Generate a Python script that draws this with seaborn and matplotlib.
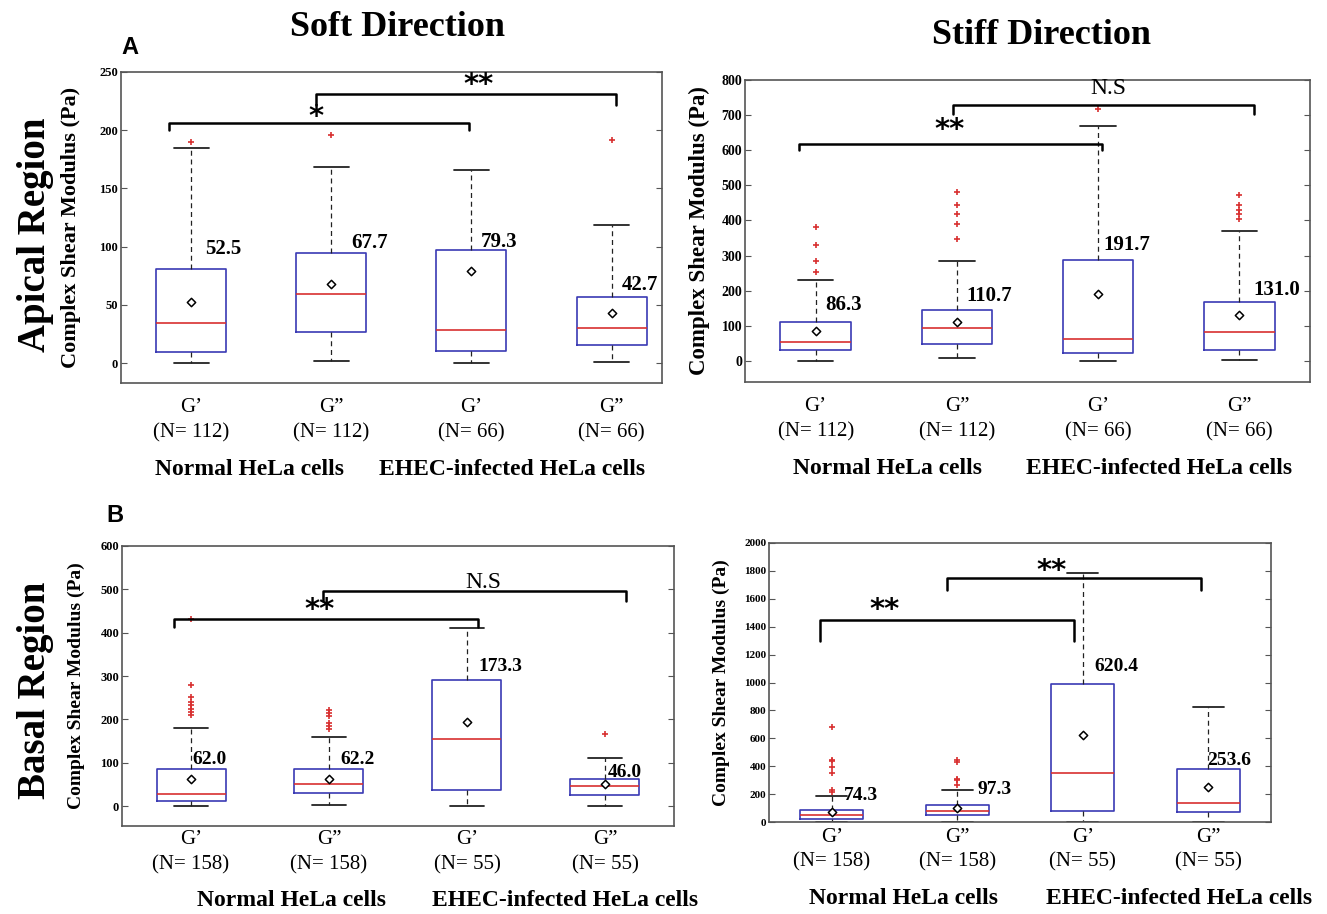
import numpy as np
import pandas as pd
import seaborn as sns
import matplotlib.pyplot as plt

sns.set_style("white")
plt.rcParams['font.family'] = ['Liberation Serif', 'DejaVu Sans']
plt.rcParams['text.color'] = 'black'
plt.rcParams['axes.labelcolor'] = 'black'
plt.rcParams['xtick.color'] = 'black'
plt.rcParams['ytick.color'] = 'black'

# >>>>> 1. Data
positions = [1, 2, 3, 4]
moduli = ["G\u2019", "G\u201d", "G\u2019", "G\u201d"]
cell_groups = ["Normal HeLa cells", "EHEC-infected HeLa cells"]
n_apical = [112, 112, 66, 66]
n_basal = [158, 158, 55, 55]

# soft direction, apical region
soft_apical_lo = [0.0, 1.7, 0.0, 0.9]
soft_apical_q1 = [9.5, 26.7, 10.6, 15.2]
soft_apical_med = [34.5, 59.0, 28.2, 30.2]
soft_apical_q3 = [80.5, 94.3, 97.4, 56.9]
soft_apical_hi = [184.5, 168.7, 165.8, 118.7]
soft_apical_fliers = [[190], [196], [], [192]]
soft_apical_mean = [52.5, 67.7, 79.3, 42.7]
soft_apical_text = ["52.5", "67.7", "79.3", "42.7"]

# stiff direction, apical region
stiff_apical_lo = [0.0, 9.5, 0.0, 2.0]
stiff_apical_q1 = [31, 47.6, 24, 31]
stiff_apical_med = [53, 95, 63, 83]
stiff_apical_q3 = [112, 143.7, 287, 166.5]
stiff_apical_hi = [231, 283.5, 670, 369]
stiff_apical_fliers = [[253, 284, 329, 381], [348, 389, 419, 445, 480], [716],
                       [405, 417, 429, 445, 473]]
stiff_apical_mean = [86.3, 110.7, 191.7, 131.0]
stiff_apical_text = ["86.3", "110.7", "191.7", "131.0"]

# soft direction, basal region
soft_basal_lo = [0.0, 2.3, 0.0, 0.0]
soft_basal_q1 = [11.5, 29, 37, 25.4]
soft_basal_med = [27.7, 51.5, 154.6, 45.4]
soft_basal_q3 = [84.6, 86, 290, 61.5]
soft_basal_hi = [180, 158.5, 411.5, 110]
soft_basal_fliers = [[210, 218, 225, 233, 241, 252, 280, 431],
                     [177, 185, 192, 208, 214, 221], [], [166]]
soft_basal_mean = [61.5, 62.2, 193.8, 51.5]
soft_basal_text = ["62.0", "62.2", "173.3", "46.0"]

# stiff direction, basal region
stiff_basal_lo = [0.0, 0.0, 0.0, 0.0]
stiff_basal_q1 = [19, 48, 79, 74]
stiff_basal_med = [48, 79, 350, 134]
stiff_basal_q3 = [88.6, 122, 989, 383]
stiff_basal_hi = [187, 232, 1784, 826]
stiff_basal_fliers = [[215, 227, 350, 395, 438, 448, 680],
                      [263, 302, 311, 433, 448], [], []]
stiff_basal_mean = [74.3, 97.3, 620.4, 253.6]
stiff_basal_text = ["74.3", "97.3", "620.4", "253.6"]
# <<<<< 1. Data

BLUE = '#3a3ab4'
RED = '#d83030'
SPINE = '#555555'


def draw_panel(ax, lo, q1, med, q3, hi, fliers, means, texts, ns, lay):
    stats = [dict(whislo=a, q1=b, med=c, q3=d, whishi=e, fliers=f)
             for a, b, c, d, e, f in zip(lo, q1, med, q3, hi, fliers)]
    ax.bxp(stats, positions=positions, widths=0.5, capwidths=0.25, showfliers=True,
           boxprops=dict(color=BLUE, lw=1.2),
           medianprops=dict(color=RED, lw=1.2),
           whiskerprops=dict(color='#222222', ls=(0, (4, 3)), lw=0.9),
           capprops=dict(color='#222222', lw=1.3),
           flierprops=dict(marker='+', markeredgecolor=RED, markersize=4, markeredgewidth=1.2))
    df = pd.DataFrame({"pos": positions, "mean": means})
    sns.scatterplot(data=df, x="pos", y="mean", marker='D', s=18, color='white',
                    edgecolor='black', linewidth=1.1, ax=ax, zorder=5)

    # mean value labels
    for x, y, t in zip(lay['tx'], lay['ty'], texts):
        ax.text(x, y, t, ha='left', va='center', fontsize=lay['tfs'], fontweight='bold')

    # significance brackets
    for x0, x1, yb, yd, lab, lx, ly, fam in lay['brackets']:
        ax.plot([x0, x0, x1, x1], [yd, yb, yb, yd], color='black', lw=1.8, zorder=6)
        if fam == 'star':
            ax.text(lx, ly, lab, ha='center', va='center', fontsize=21,
                    family='DejaVu Sans', fontweight='bold')
        else:
            ax.text(lx, ly, lab, ha='center', va='center', fontsize=17)

    ax.set_xlim(*lay['xlim'])
    ax.set_ylim(*lay['ylim'])
    ax.set_yticks(lay['yticks'])
    ax.set_xticks(positions)
    ax.set_xticklabels(["{}\n(N= {})".format(m, n) for m, n in zip(moduli, ns)],
                       fontsize=15, linespacing=1.4)
    ax.tick_params(axis='x', length=0, pad=lay['xpad'])
    ax.tick_params(axis='y', direction='in', left=True, right=True, length=4,
                   labelsize=lay['yfs'], pad=2, color=SPINE)
    plt.setp(ax.get_yticklabels(), fontweight='bold')
    ax.set_xlabel("")
    ax.set_ylabel("Complex Shear Modulus (Pa)", fontsize=lay['lfs'], fontweight='bold')
    ax.yaxis.set_label_coords(lay['lx'], 0.5)
    for sp in ax.spines.values():
        sp.set_color(SPINE)
        sp.set_linewidth(1.2)

    # group labels under the tick labels
    for gx, g in zip(lay['gx'], cell_groups):
        ax.annotate(g, xy=(gx, 0), xycoords=('data', 'axes fraction'),
                    xytext=(0, -lay['gy']), textcoords='offset points',
                    ha='center', va='center', fontsize=17, fontweight='bold')


fig = plt.figure(figsize=(13.27, 9.14), dpi=100)
W, H = 1327.0, 914.0


def add_ax(l, r, t, b):
    return fig.add_axes([l / W, 1 - b / H, (r - l) / W, (b - t) / H])


ax_sa = add_ax(121, 662, 72, 383)
ax_ta = add_ax(745, 1310, 80, 382)
ax_sb = add_ax(122, 674, 546, 826)
ax_tb = add_ax(769, 1271, 543, 822)

draw_panel(ax_sa, soft_apical_lo, soft_apical_q1, soft_apical_med, soft_apical_q3,
           soft_apical_hi, soft_apical_fliers, soft_apical_mean, soft_apical_text, n_apical,
           dict(tx=[1.1, 2.14, 3.07, 4.07], ty=[98, 103, 104, 67.5], tfs=15,
                brackets=[(0.84, 2.98, 206, 200.6, "*", 1.89, 211, 'star'),
                          (1.89, 4.03, 231, 222, "**", 3.05, 239, 'star')],
                xlim=(0.5, 4.36), ylim=(-17, 250), yticks=[0, 50, 100, 150, 200, 250],
                yfs=9, lfs=16, lx=-0.074, xpad=11, gy=62,
                gx=[1.42, 3.29]))

draw_panel(ax_ta, stiff_apical_lo, stiff_apical_q1, stiff_apical_med, stiff_apical_q3,
           stiff_apical_hi, stiff_apical_fliers, stiff_apical_mean, stiff_apical_text, n_apical,
           dict(tx=[1.07, 2.07, 3.04, 4.1], ty=[160, 184, 331, 203], tfs=15,
                brackets=[(0.88, 3.03, 619, 602, "**", 1.95, 659, 'star'),
                          (1.97, 4.1, 729, 702, "N.S", 3.07, 775, 'text')],
                xlim=(0.5, 4.5), ylim=(-60, 800), yticks=list(range(0, 801, 100)),
                yfs=10, lfs=16.5, lx=-0.062, xpad=11, gy=62,
                gx=[1.51, 3.43]))

draw_panel(ax_sb, soft_basal_lo, soft_basal_q1, soft_basal_med, soft_basal_q3,
           soft_basal_hi, soft_basal_fliers, soft_basal_mean, soft_basal_text, n_basal,
           dict(tx=[1.01, 2.08, 3.08, 4.02], ty=[108, 108, 323, 77], tfs=14,
                brackets=[(0.88, 3.08, 431, 414, "**", 1.93, 452, 'star'),
                          (1.96, 4.15, 496, 473, "N.S", 3.12, 515, 'text')],
                xlim=(0.5, 4.5), ylim=(-46, 600), yticks=list(range(0, 601, 100)),
                yfs=9, lfs=14, lx=-0.067, xpad=3, gy=54,
                gx=[1.73, 3.71]))

draw_panel(ax_tb, stiff_basal_lo, stiff_basal_q1, stiff_basal_med, stiff_basal_q3,
           stiff_basal_hi, stiff_basal_fliers, stiff_basal_mean, stiff_basal_text, n_basal,
           dict(tx=[1.1, 2.16, 3.09, 3.99], ty=[192, 235, 1114, 438], tfs=14,
                brackets=[(0.91, 2.93, 1449, 1296, "**", 1.42, 1523, 'star'),
                          (1.92, 3.94, 1748, 1660, "**", 2.75, 1796, 'star')],
                xlim=(0.5, 4.5), ylim=(0, 2000), yticks=list(range(0, 2001, 200)),
                yfs=8, lfs=14, lx=-0.078, xpad=4, gy=55,
                gx=[1.57, 3.77]))

# column titles, row labels, panel letters
fig.text(397 / W, 1 - 27 / H, "Soft Direction", ha='center', va='center',
         fontsize=26, fontweight='bold')
fig.text(1041 / W, 1 - 36 / H, "Stiff Direction", ha='center', va='center',
         fontsize=26, fontweight='bold')
fig.text(36 / W, 1 - 235 / H, "Apical Region", ha='center', va='center', rotation=90,
         fontsize=28, fontweight='bold')
fig.text(36 / W, 1 - 690 / H, "Basal Region", ha='center', va='center', rotation=90,
         fontsize=28, fontweight='bold')
fig.text(130 / W, 1 - 48 / H, "A", ha='center', va='center', fontsize=17,
         fontweight='bold', family='Liberation Sans')
fig.text(115 / W, 1 - 516 / H, "B", ha='center', va='center', fontsize=17,
         fontweight='bold', family='Liberation Sans')

fig.savefig("out.png", dpi=100)
